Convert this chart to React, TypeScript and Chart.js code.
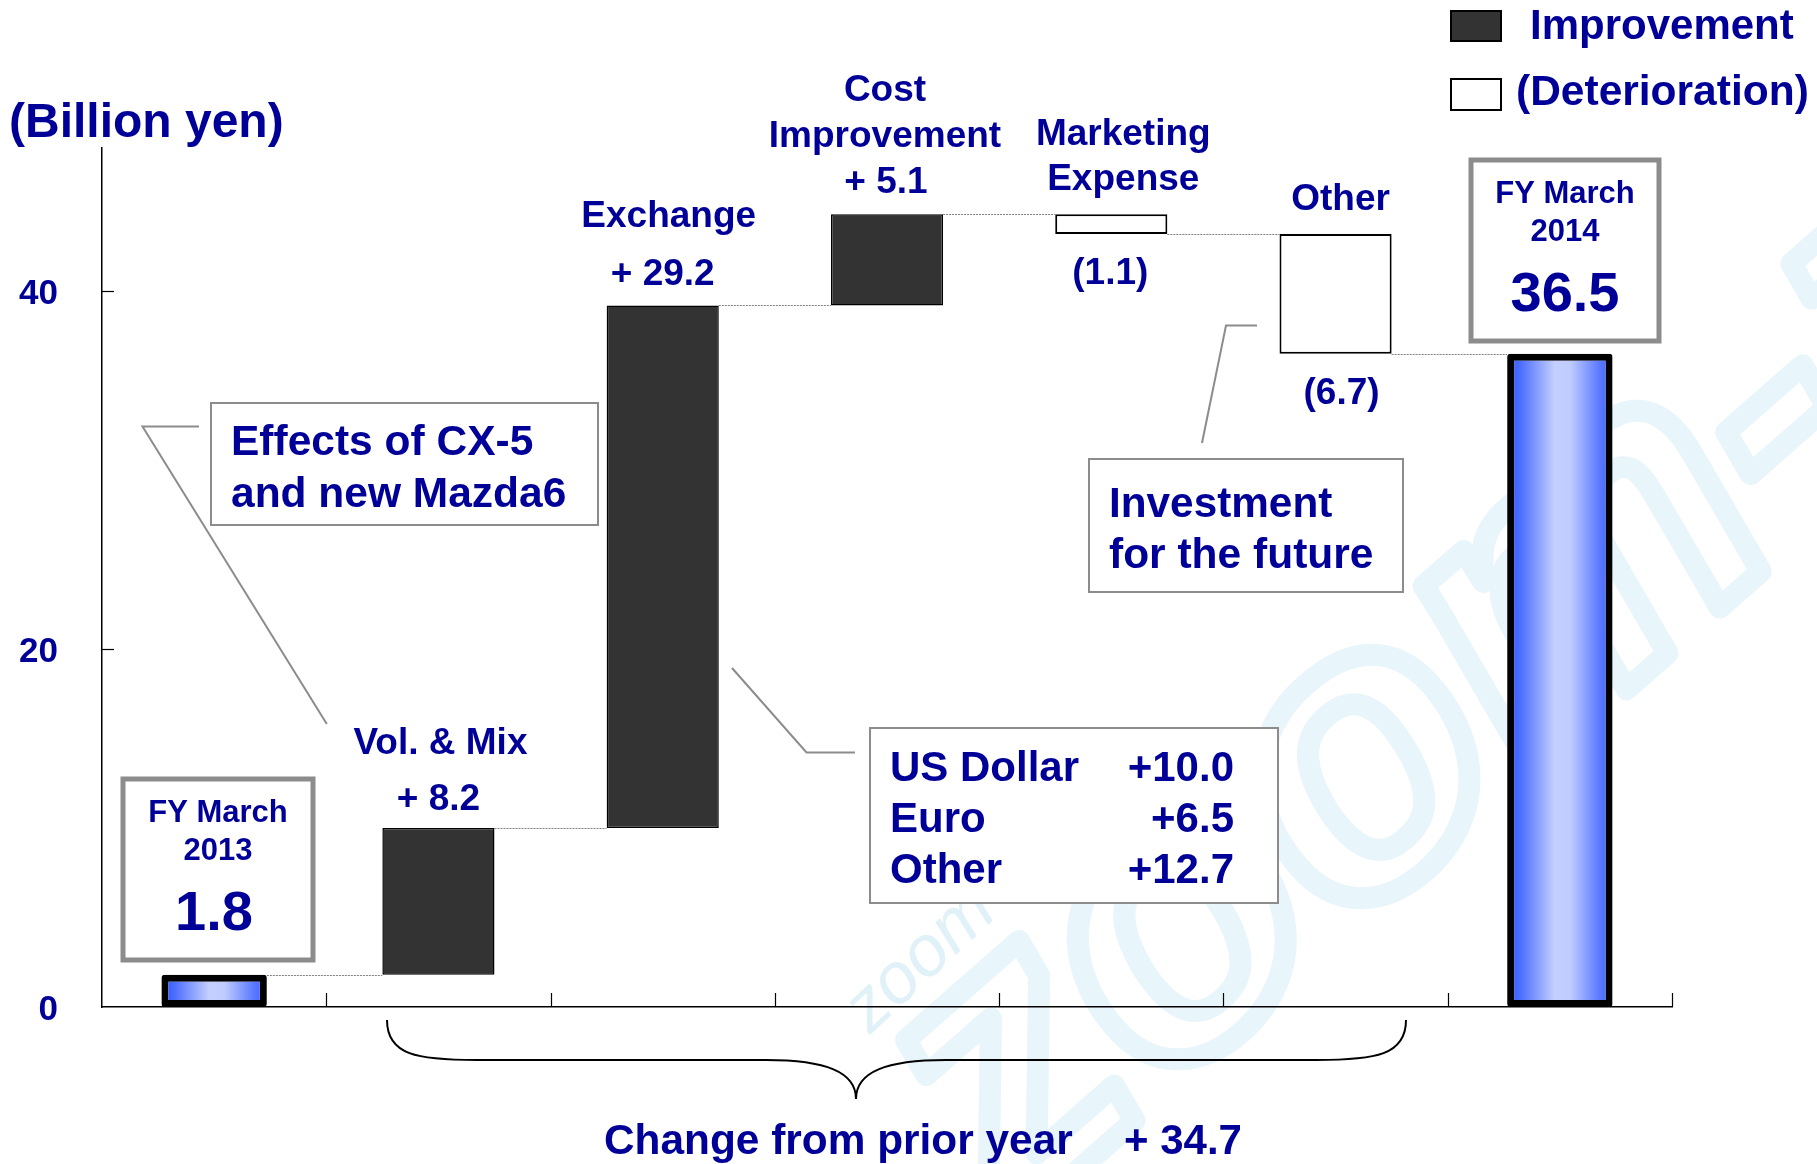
import React, { useEffect, useRef } from 'react';
import { Chart, registerables } from 'chart.js';

Chart.register(...registerables);

// ---------- data ----------
const categories = ['FY March 2013', 'Vol. & Mix', 'Exchange', 'Cost Improvement', 'Marketing Expense', 'Other', 'FY March 2014'];
const startTotal = 1.8;
const endTotal = 36.5;
const changes = [8.2, 29.2, 5.1, -1.1, -6.7];
const changeLabelLines = [['Vol. & Mix'], ['Exchange'], ['Cost', 'Improvement'], ['Marketing', 'Expense'], ['Other']];
const changeValueTexts = ['+ 8.2', '+ 29.2', '+ 5.1', '(1.1)', '(6.7)'];
const yTicks = [0, 20, 40];
const exchangeNames = ['US Dollar', 'Euro', 'Other'];
const exchangeValues = ['+10.0', '+6.5', '+12.7'];
const totalChangeText = '+ 34.7';

const BLUE = '#000099';
const FONT = '"Liberation Sans", Arial, Helvetica, sans-serif';
const TY = 3; // vertical text nudge

function buildRanges() {
  const ranges: any[] = [null];
  let run = startTotal;
  for (const c of changes) {
    ranges.push([run, run + c]);
    run += c;
  }
  ranges.push(null);
  return ranges;
}

function txt(ctx: CanvasRenderingContext2D, s: string, x: number, y: number, size: number, align: CanvasTextAlign = 'center') {
  ctx.save();
  ctx.fillStyle = BLUE;
  ctx.font = `bold ${size}px ${FONT}`;
  ctx.textAlign = align;
  ctx.textBaseline = 'middle';
  ctx.fillText(s, x, y + TY);
  ctx.restore();
}

function box(ctx: CanvasRenderingContext2D, x: number, y: number, w: number, h: number, lw: number, color = '#8c8c8c') {
  ctx.save();
  ctx.fillStyle = '#ffffff';
  ctx.fillRect(x, y, w, h);
  ctx.strokeStyle = color;
  ctx.lineWidth = lw;
  ctx.strokeRect(x, y, w, h);
  ctx.restore();
}

function poly(ctx: CanvasRenderingContext2D, pts: number[][], color = '#8c8c8c', lw = 2) {
  ctx.save();
  ctx.strokeStyle = color;
  ctx.lineWidth = lw;
  ctx.beginPath();
  ctx.moveTo(pts[0][0], pts[0][1]);
  for (let i = 1; i < pts.length; i++) ctx.lineTo(pts[i][0], pts[i][1]);
  ctx.stroke();
  ctx.restore();
}

const CHANGE_PCT = 0.5;
const TOTAL_PCT = 0.47;

const decorPlugin = {
  id: 'decor',
  beforeDraw(chart: any) {
    const ctx: CanvasRenderingContext2D = chart.ctx;
    ctx.save();
    ctx.fillStyle = '#ffffff';
    ctx.fillRect(0, 0, chart.width, chart.height);
    // faint watermark (large)
    ctx.save();
    ctx.translate(1010, 1230);
    ctx.rotate(-0.72);
    ctx.font = `italic bold 400px ${FONT}`;
    ctx.strokeStyle = 'rgba(180, 222, 238, 0.30)';
    ctx.lineWidth = 22;
    ctx.lineJoin = 'round';
    ctx.strokeText('zoom-z', 0, 0);
    ctx.restore();
    // faint watermark (small)
    ctx.save();
    ctx.translate(870, 1035);
    ctx.rotate(-0.75);
    ctx.font = `italic 72px ${FONT}`;
    ctx.fillStyle = 'rgba(170, 215, 235, 0.35)';
    ctx.fillText('zoom-zoom', 0, 0);
    ctx.restore();
    ctx.restore();
  },
  afterDatasetsDraw(chart: any) {
    const ctx: CanvasRenderingContext2D = chart.ctx;
    const xs = chart.scales.x;
    const ys = chart.scales.y;
    const ca = chart.chartArea;
    const catW = (ca.right - ca.left) / categories.length;

    // connectors
    const ends: number[] = [startTotal];
    let run = startTotal;
    for (const c of changes) { run += c; ends.push(run); }
    ctx.save();
    ctx.strokeStyle = '#808080';
    ctx.lineWidth = 1;
    ctx.setLineDash([2, 1]);
    for (let i = 0; i < categories.length - 1; i++) {
      const pctA = i === 0 ? TOTAL_PCT : CHANGE_PCT;
      const pctB = i + 1 === categories.length - 1 ? TOTAL_PCT : CHANGE_PCT;
      const x1 = xs.getPixelForValue(i) + (catW * pctA) / 2;
      const x2 = xs.getPixelForValue(i + 1) - (catW * pctB) / 2;
      const y = Math.round(ys.getPixelForValue(ends[i])) + 0.5;
      ctx.beginPath();
      ctx.moveTo(x1, y);
      ctx.lineTo(x2, y);
      ctx.stroke();
    }
    ctx.restore();

    // inward ticks
    ctx.save();
    ctx.strokeStyle = '#000';
    ctx.lineWidth = 1.2;
    for (const v of yTicks) {
      if (v === 0) continue;
      const y = Math.round(ys.getPixelForValue(v)) + 0.5;
      ctx.beginPath(); ctx.moveTo(ca.left, y); ctx.lineTo(ca.left + 12, y); ctx.stroke();
    }
    for (let i = 0; i < categories.length; i++) {
      const x = Math.round(xs.getPixelForValue(i) + catW / 2) + 0.5;
      ctx.beginPath(); ctx.moveTo(x, ca.bottom); ctx.lineTo(x, ca.bottom - 14); ctx.stroke();
    }
    ctx.restore();

    // change labels
    let r = startTotal;
    changes.forEach((c, k) => {
      const i = k + 1;
      const top = ys.getPixelForValue(Math.max(r, r + c));
      const bot = ys.getPixelForValue(Math.min(r, r + c));
      const cx = xs.getPixelForValue(i);
      const lines = changeLabelLines[k];
      const dx = [2, 6, -2, 12, 5][k];
      if (c > 0) {
        const all = [...lines, changeValueTexts[k]];
        const gaps = k === 0 ? 56 : k === 1 ? 58 : 46;
        const base = k === 0 ? 31 : 34;
        all.forEach((s, j) => {
          const y = top - base - (all.length - 1 - j) * gaps;
          txt(ctx, s, cx + (j === all.length - 1 ? [0, 0, -1][k] : dx), y, 37);
        });
      } else {
        lines.forEach((s, j) => {
          const y = top - 37 - (lines.length - 1 - j) * 45;
          txt(ctx, s, cx + dx, y, 37);
        });
        txt(ctx, changeValueTexts[k], cx + (k === 3 ? -1 : 6), bot + 37, 37);
      }
      r += c;
    });

    // FY boxes
    const fy = [
      { i: 0, v: startTotal, year: '2013', bx: 123, by: 779, bw: 190, bh: 181 },
      { i: categories.length - 1, v: endTotal, year: '2014', bx: 1471, by: 160, bw: 188, bh: 181 },
    ];
    for (const f of fy) {
      box(ctx, f.bx, f.by, f.bw, f.bh, 5);
      const cx = f.bx + f.bw / 2;
      txt(ctx, 'FY March', cx, f.by + 31, 31);
      txt(ctx, f.year, cx, f.by + 69, 31);
      txt(ctx, f.v.toFixed(1), cx - (f.i === 0 ? 4 : 0), f.by + 133, 56);
    }

    // Effects box
    poly(ctx, [[199, 426.5], [142.5, 426.5], [326.8, 724]]);
    box(ctx, 211, 403, 387, 122, 2);
    txt(ctx, 'Effects of CX-5', 231, 440, 42.5, 'left');
    txt(ctx, 'and new Mazda6', 231, 492, 42.5, 'left');

    // Exchange breakdown
    poly(ctx, [[732, 668], [806.5, 752.5], [855, 752.5]]);
    box(ctx, 870, 728, 408, 175, 2);
    exchangeNames.forEach((n, j) => {
      const y = 766 + j * 51;
      txt(ctx, n, 890, y, 42, 'left');
      txt(ctx, exchangeValues[j], 1234, y, 42, 'right');
    });

    // Investment box
    poly(ctx, [[1257, 325.5], [1226, 325.5], [1202, 443]]);
    box(ctx, 1089, 459, 314, 133, 2);
    txt(ctx, 'Investment', 1109, 502, 42.3, 'left');
    txt(ctx, 'for the future', 1109, 553, 42.5, 'left');

    // brace
    ctx.save();
    ctx.strokeStyle = '#000';
    ctx.lineWidth = 2;
    ctx.beginPath();
    const L = 387, R = 1406, T = 1020, M = 1060, tipX = 856, tipY = 1099;
    ctx.moveTo(L, T);
    ctx.bezierCurveTo(L, M - 5, L + 30, M, L + 90, M);
    ctx.lineTo(tipX - 90, M);
    ctx.bezierCurveTo(tipX - 30, M, tipX, M + 12, tipX, tipY);
    ctx.bezierCurveTo(tipX, M + 12, tipX + 30, M, tipX + 90, M);
    ctx.lineTo(R - 90, M);
    ctx.bezierCurveTo(R - 30, M, R, M - 5, R, T);
    ctx.stroke();
    ctx.restore();
    txt(ctx, 'Change from prior year', 604, 1139, 42.4, 'left');
    txt(ctx, totalChangeText, 1124, 1139, 42, 'left');

    // legend
    ctx.save();
    ctx.fillStyle = '#333333';
    ctx.fillRect(1451, 11, 50, 30);
    ctx.strokeStyle = '#000';
    ctx.lineWidth = 2;
    ctx.strokeRect(1451, 11, 50, 30);
    ctx.fillStyle = '#ffffff';
    ctx.fillRect(1451, 79, 50, 31);
    ctx.strokeRect(1451, 79, 50, 31);
    ctx.restore();
    txt(ctx, 'Improvement', 1530, 24, 42, 'left');
    txt(ctx, '(Deterioration)', 1516, 90, 42.5, 'left');

    // unit
    txt(ctx, '(Billion yen)', 9, 121, 48, 'left');
  },
};

export default function App() {
  const ref = useRef<HTMLCanvasElement | null>(null);
  useEffect(() => {
    if (!ref.current) return;
    const ranges = buildRanges();
    const totalData: any[] = categories.map((_, i) => (i === 0 ? [0, startTotal] : i === categories.length - 1 ? [0, endTotal] : null));
    const gradient = (c: any) => {
      const chart = c.chart;
      const xs = chart.scales && chart.scales.x;
      if (!xs || !chart.chartArea || c.dataIndex === undefined) return '#7f99ff';
      const cx = xs.getPixelForValue(c.dataIndex);
      const w = ((chart.chartArea.right - chart.chartArea.left) / categories.length) * TOTAL_PCT;
      const g = chart.ctx.createLinearGradient(cx - w / 2, 0, cx + w / 2, 0);
      g.addColorStop(0, '#2f55ff');
      g.addColorStop(0.12, '#4a6cff');
      g.addColorStop(0.45, '#c3cfff');
      g.addColorStop(0.6, '#bfcbff');
      g.addColorStop(0.88, '#5a78ff');
      g.addColorStop(1, '#3d60ff');
      return g;
    };
    const chart = new Chart(ref.current, {
      type: 'bar',
      data: {
        labels: categories,
        datasets: [
          {
            label: 'Change',
            data: ranges,
            backgroundColor: ranges.map((r) => (r && r[1] < r[0] ? '#ffffff' : '#333333')),
            borderColor: '#000000',
            borderWidth: ranges.map((r) => (r && r[1] < r[0] ? 2 : 1.5)),
            borderSkipped: false,
            barPercentage: CHANGE_PCT,
            categoryPercentage: 1,
            grouped: false,
          } as any,
          {
            label: 'Total',
            data: totalData,
            backgroundColor: gradient,
            borderColor: '#000000',
            borderWidth: 7,
            borderRadius: 3,
            borderSkipped: false,
            barPercentage: TOTAL_PCT,
            categoryPercentage: 1,
            grouped: false,
          } as any,
        ],
      },
      options: {
        animation: false,
        responsive: false,
        layout: { padding: { top: 148, right: 145, left: 0, bottom: 0 } },
        plugins: { legend: { display: false }, tooltip: { enabled: false } },
        scales: {
          x: {
            type: 'category',
            grid: { display: false, drawTicks: false },
            border: { display: true, color: '#000', width: 1.5 },
            ticks: { display: false },
            afterFit: (s: any) => { s.height = 157; },
          },
          y: {
            min: 0,
            max: 48,
            grid: { display: false, drawTicks: false },
            border: { display: true, color: '#000', width: 1.5 },
            ticks: { color: BLUE, padding: 44, labelOffset: 3, font: { size: 35, weight: 'bold', family: FONT } },
            afterBuildTicks: (s: any) => { s.ticks = yTicks.map((v) => ({ value: v })); },
            afterFit: (s: any) => { s.width = 102; },
          },
        },
      } as any,
      plugins: [decorPlugin],
    });
    return () => chart.destroy();
  }, []);
  return (
    <div style={{ position: 'absolute', left: 0, top: 0, width: 1817, height: 1164, background: '#fff' }}>
      <canvas ref={ref} width={1817} height={1164} style={{ display: 'block', width: 1817, height: 1164 }} />
    </div>
  );
}
